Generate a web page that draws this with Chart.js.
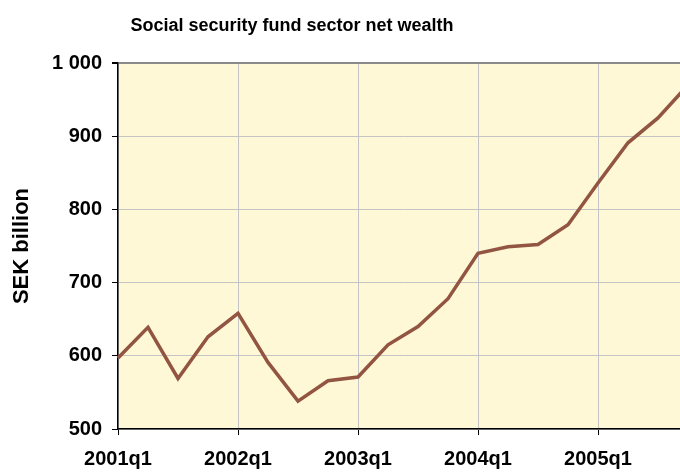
<!DOCTYPE html>
<html>
<head>
<meta charset="utf-8">
<script src="https://cdn.jsdelivr.net/npm/chart.js@4/dist/chart.umd.min.js"></script>
<style>
  html, body { margin: 0; padding: 0; background: #ffffff; overflow: hidden; }
  #wrap { position: relative; width: 700px; height: 473px; }
</style>
</head>
<body>
<div id="wrap"><canvas id="c"></canvas></div>
<script>
const quarters = ["2001q1","2001q2","2001q3","2001q4","2002q1","2002q2","2002q3","2002q4",
                  "2003q1","2003q2","2003q3","2003q4","2004q1","2004q2","2004q3","2004q4",
                  "2005q1","2005q2","2005q3","2005q4"];
const netWealth = [597, 639, 569, 626, 658, 591, 538, 566, 571, 615, 640, 678,
                   740, 749, 752, 779, 836, 891, 925, 970];
const yTicks = [500, 600, 700, 800, 900, 1000];
const titleText = "Social security fund sector net wealth";
const yTitle = "SEK billion";

const FONT = "'Liberation Sans', Arial, sans-serif";

const plotBg = {
  id: 'plotBg',
  afterLayout(chart) {
    // centre the title over the original (uncropped) figure width
    if (chart.titleBlock) { chart.titleBlock.left = 0; chart.titleBlock.right = 584; }
  },
  beforeDraw(chart) {
    const {ctx, chartArea: a} = chart;
    ctx.save();
    ctx.fillStyle = '#FFF8D6';
    ctx.fillRect(a.left, a.top, a.right - a.left, a.bottom - a.top);
    ctx.restore();
  }
};

new Chart(document.getElementById('c'), {
  type: 'line',
  data: {
    labels: quarters,
    datasets: [{
      data: netWealth,
      borderColor: '#925542',
      borderWidth: 3.5,
      pointRadius: 0,
      tension: 0,
      fill: false
    }]
  },
  options: {
    responsive: true,
    maintainAspectRatio: false,
    animation: false,
    layout: { padding: { top: 15, right: 8, left: 0, bottom: 0 } },
    plugins: {
      legend: { display: false },
      tooltip: { enabled: false },
      title: {
        display: true,
        text: titleText,
        color: '#000',
        font: { family: FONT, size: 18, weight: 'bold' },
        padding: { top: 0, bottom: 26.4 }
      }
    },
    scales: {
      x: {
        type: 'category',
        offset: false,
        afterFit(s) { s.height = 44; },
        border: { display: true, color: '#000', width: 1.5 },
        grid: {
          color: c => (c.index % 4 === 0 ? '#c4c4c4' : 'rgba(0,0,0,0)'),
          tickColor: c => (c.index % 4 === 0 ? '#000' : 'rgba(0,0,0,0)'),
          lineWidth: 1,
          tickLength: 6,
          drawTicks: true
        },
        ticks: {
          autoSkip: false,
          maxRotation: 0,
          color: '#000',
          padding: 12,
          font: { family: FONT, size: 20, weight: 'bold' },
          callback(v, i) { return i % 4 === 0 ? quarters[i] : ''; }
        }
      },
      y: {
        min: yTicks[0],
        max: yTicks[yTicks.length - 1],
        afterFit(s) { s.width = 118; },
        afterBuildTicks(s) { s.ticks = yTicks.map(v => ({ value: v })); },
        border: { display: true, color: '#000', width: 1.5 },
        grid: {
          color: c => (c.tick && c.tick.value === 1000 ? '#8a8a8a' : '#c4c4c4'),
          lineWidth: c => (c.tick && c.tick.value === 1000 ? 2 : 1),
          tickColor: '#000',
          tickLength: 6
        },
        ticks: {
          color: '#000',
          padding: 10,
          font: { family: FONT, size: 20, weight: 'bold' },
          callback(v) { return v >= 1000 ? String(v).replace(/(\d)(\d{3})$/, '$1 $2') : String(v); }
        },
        title: {
          display: true,
          text: yTitle,
          color: '#000',
          font: { family: FONT, size: 22, weight: 'bold' },
          padding: { top: 9, bottom: 0 }
        }
      }
    }
  },
  plugins: [plotBg]
});
</script>
</body>
</html>
